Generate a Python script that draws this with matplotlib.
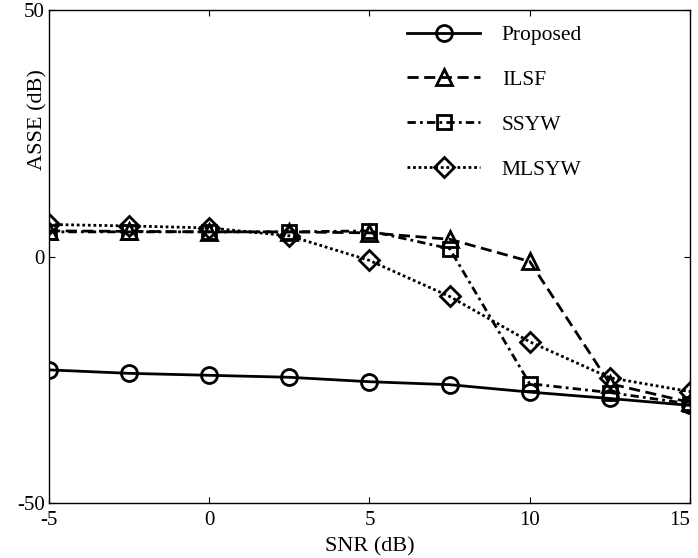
import numpy as np
import matplotlib
matplotlib.use("Agg")
import matplotlib.pyplot as plt

plt.rcParams['font.family'] = ['Liberation Serif', 'DejaVu Serif']
plt.rcParams['axes.unicode_minus'] = False

snr = [-5, -2.5, 0, 2.5, 5, 7.5, 10, 12.5, 15]
proposed = [-23.0, -23.7, -24.1, -24.5, -25.4, -26.0, -27.5, -28.8, -30.2]
ilsf = [5.2, 5.1, 5.0, 5.0, 4.8, 3.5, -1.0, -25.8, -29.6]
ssyw = [5.0, 5.0, 5.0, 5.0, 5.2, 1.6, -25.8, -27.6, -29.9]
mlsyw = [6.5, 6.2, 5.8, 4.2, -0.8, -8.1, -17.3, -24.6, -27.4]

fig = plt.figure(figsize=(6.98, 5.58), dpi=100)
ax = fig.add_axes([0.0702, 0.0986, 0.9183, 0.8834])

common = dict(color='black', lw=2.0, ms=11.5, mfc='none', mew=2.0)
ax.plot(snr, proposed, '-', marker='o', label='Proposed', **common)
ax.plot(snr, ilsf, linestyle=(0, (4, 2)), marker='^', label='ILSF', **common)
ax.plot(snr, ssyw, linestyle=(0, (3, 1.5, 1, 1.5)), marker='s', label='SSYW', **dict(common, ms=10.5))
ax.plot(snr, mlsyw, linestyle=(0, (1, 1)), marker='D', label='MLSYW', **dict(common, ms=10))

ax.set_xlim(-5, 15)
ax.set_ylim(-50, 50)
ax.set_xticks([-5, 0, 5, 10, 15])
ax.set_yticks([-50, 0, 50])
ax.tick_params(direction='in', length=4, width=0.8, top=True, right=True,
               labelsize=15, pad=3)
ax.tick_params(axis='x', pad=6)
xl = ax.get_xticklabels()
xl[-1].set_horizontalalignment('right')
for s in ax.spines.values():
    s.set_linewidth(1.0)

ax.set_xlabel('SNR (dB)', fontsize=16, labelpad=5)
ax.set_ylabel('ASSE (dB)', fontsize=16)
ax.yaxis.set_label_coords(-0.003, 0.777)

ax.legend(loc='upper right', frameon=False, fontsize=15.5, handlelength=3.4,
          labelspacing=1.15, handletextpad=1.0, borderaxespad=0.3,
          bbox_to_anchor=(0.855, 1.0))

fig.savefig('out.png', dpi=100)
